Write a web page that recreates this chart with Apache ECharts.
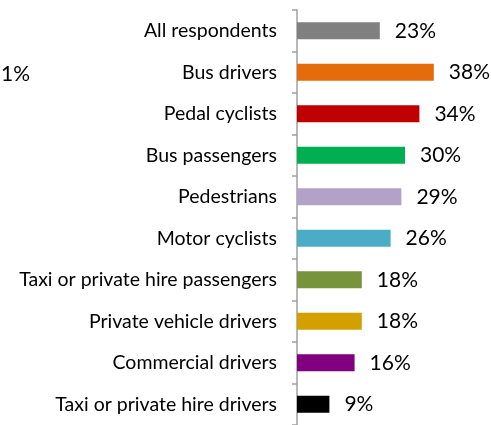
<!DOCTYPE html>
<html>
<head>
<meta charset="utf-8">
<script src="https://cdn.jsdelivr.net/npm/echarts@6/dist/echarts.min.js"></script>
<style>
  html, body { margin: 0; padding: 0; background: #fff; }
  #chart { width: 491px; height: 425px; }
</style>
</head>
<body>
<div id="chart"></div>
<script>
// Share of respondents by road user group
const categories = [
  'All respondents',
  'Bus drivers',
  'Pedal cyclists',
  'Bus passengers',
  'Pedestrians',
  'Motor cyclists',
  'Taxi or private hire passengers',
  'Private vehicle drivers',
  'Commercial drivers',
  'Taxi or private hire drivers'
];
const values = [23, 38, 34, 30, 29, 26, 18, 18, 16, 9];
const barColors = [
  '#808080', '#E46C0A', '#C00000', '#00B050', '#B3A2C7',
  '#4BACC6', '#77933C', '#D4A000', '#800080', '#000000'
];

const FONT = 'Lato, "Open Sans", sans-serif';

const chart = echarts.init(document.getElementById('chart'), null, { renderer: 'canvas' });

chart.setOption({
  animation: false,
  backgroundColor: '#ffffff',
  grid: { left: 297, top: 10, width: 180, height: 417, containLabel: false },
  xAxis: {
    type: 'value',
    min: 0,
    max: 50,
    show: false
  },
  yAxis: {
    type: 'category',
    inverse: true,
    data: categories,
    axisLine: { show: true, lineStyle: { color: '#A0A0A0', width: 1.5 } },
    axisTick: { show: true, inside: false, length: 5, lineStyle: { color: '#A0A0A0', width: 1.5 } },
    axisLabel: { color: '#000', fontSize: 19.5, fontFamily: FONT, margin: 20 },
    splitLine: { show: false }
  },
  series: [{
    type: 'bar',
    barWidth: 17,
    data: values.map((v, i) => ({ value: v, itemStyle: { color: barColors[i] } })),
    label: {
      show: true,
      position: 'right',
      distance: 15,
      color: '#000',
      fontSize: 21,
      fontFamily: FONT,
      formatter: p => p.value + '%'
    }
  }],
  graphic: [{
    type: 'text',
    style: {
      x: 30, y: 74,
      text: '71%',
      fontSize: 21,
      fontFamily: FONT,
      fill: '#000',
      align: 'right',
      verticalAlign: 'middle'
    }
  }]
});
</script>
</body>
</html>
